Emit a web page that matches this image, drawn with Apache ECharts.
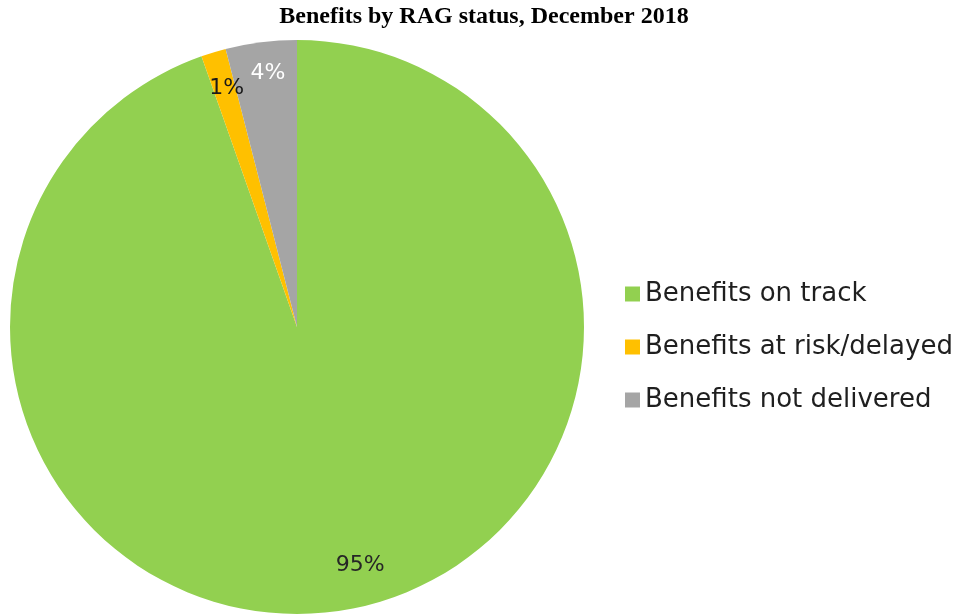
<!DOCTYPE html>
<html>
<head>
<meta charset="utf-8">
<script src="https://cdn.jsdelivr.net/npm/echarts@6/dist/echarts.min.js"></script>
<style>
  html, body { margin: 0; padding: 0; background: #fff; }
  #main { width: 968px; height: 616px; }
</style>
</head>
<body>
<div id="main"></div>
<script>
// 数据
var names = ['Benefits on track', 'Benefits at risk/delayed', 'Benefits not delivered'];
var values = [94.6, 1.4, 4.0];
var colors = ['#92D050', '#FFC000', '#A5A5A5'];
var labelColors = ['#262626', '#1a1a1a', '#ffffff'];
var labelShift = [[20, -14], [4, 6], [3, 0]];

var myChart = echarts.init(document.getElementById('main'));

var sliceData = [];
var labelData = [];
for (var i = 0; i < names.length; i++) {
    sliceData.push({ name: names[i], value: values[i], itemStyle: { color: colors[i] } });
    labelData.push({
        name: names[i], value: values[i],
        itemStyle: { color: 'rgba(0,0,0,0)', borderWidth: 0 },
        label: { color: labelColors[i], opacity: 1, offset: labelShift[i] }
    });
}

var option = {
    animation: false,
    title: {
        text: 'Benefits by RAG status, December 2018',
        left: 'center',
        top: 0,
        textStyle: {
            fontFamily: 'Liberation Serif',
            fontWeight: 'bold',
            fontSize: 24,
            color: '#000'
        }
    },
    legend: {
        orient: 'vertical',
        left: 620,
        top: 276,
        itemWidth: 15,
        itemHeight: 15,
        itemGap: 27,
        icon: 'rect',
        data: names.map(function (n, k) { return { name: n, itemStyle: { color: colors[k], opacity: 1 } }; }),
        textStyle: {
            fontFamily: 'DejaVu Sans',
            fontSize: 26,
            color: '#1f1f1f'
        }
    },
    series: [
        {
            type: 'pie',
            center: [297, 327],
            radius: [0, 287],
            startAngle: 90,
            clockwise: true,
            silent: true,
            label: { show: false },
            labelLine: { show: false },
            data: sliceData
        },
        {
            type: 'pie',
            center: [297, 327],
            radius: [218, 287],
            startAngle: 90,
            clockwise: true,
            silent: true,
            legendHoverLink: false,
            label: {
                show: true,
                position: 'inside',
                fontFamily: 'DejaVu Sans',
                fontSize: 22,
                formatter: function (p) { return Math.round(p.percent) + '%'; }
            },
            labelLine: { show: false },
            data: labelData
        }
    ]
};
myChart.setOption(option);
</script>
</body>
</html>
